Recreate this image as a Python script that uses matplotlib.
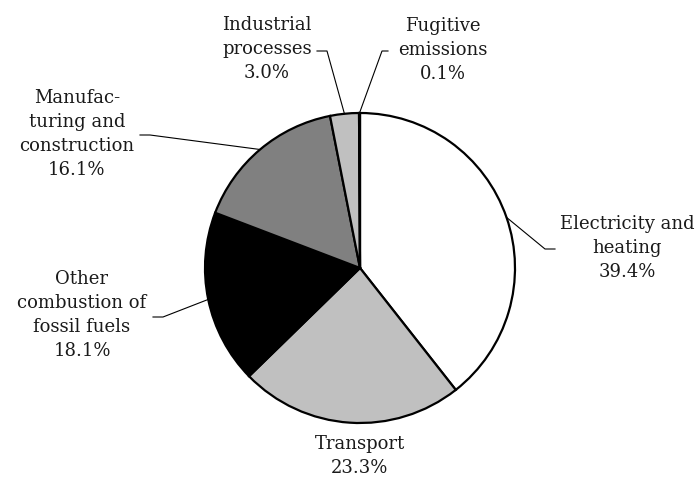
import numpy as np
import matplotlib.pyplot as plt

# Data
labels = ["Electricity and\nheating", "Transport", "Other\ncombustion of\nfossil fuels",
          "Manufac-\nturing and\nconstruction", "Industrial\nprocesses", "Fugitive\nemissions"]
shares = [39.4, 23.3, 18.1, 16.1, 3.0, 0.1]
colors = ["white", "#c0c0c0", "black", "#808080", "#c0c0c0", "#c0c0c0"]

# label centre (x, y) and leader bend point (x, y, end x), in pixels from top-left
label_pos = [(627, 248), (360, 456), (82, 315), (77, 134), (267, 49), (443, 50)]
leader_end = [(545, 249, 555), None, (163, 317, 153), (150, 135, 140), (327, 51, 317), (382, 51, 388)]

W, H = 697, 480
cx, cy, R = 360, 268, 155

fig = plt.figure(figsize=(W / 100, H / 100), dpi=100)
ax = fig.add_axes([0, 0, 1, 1])

wedges, _ = ax.pie(shares, colors=colors, startangle=90, counterclock=False,
                   center=(cx, H - cy), radius=R,
                   wedgeprops=dict(edgecolor="black", linewidth=1.6))
ax.set_xlim(0, W)
ax.set_ylim(0, H)
ax.axis("off")

font = dict(family="DejaVu Serif", size=13, color="#1a1a1a")
for w, lab, val, pos, le in zip(wedges, labels, shares, label_pos, leader_end):
    ax.text(pos[0], H - pos[1], f"{lab}\n{val:.1f}%", ha="center", va="center",
            linespacing=1.45, **font)
    if le is None:
        continue
    mid = np.deg2rad((w.theta1 + w.theta2) / 2)
    x0 = cx + R * np.cos(mid)
    y0 = (H - cy) + R * np.sin(mid)
    ax.plot([x0, le[0], le[2]], [y0, H - le[1], H - le[1]], color="black", lw=0.8)

fig.savefig("out.png", dpi=100)
